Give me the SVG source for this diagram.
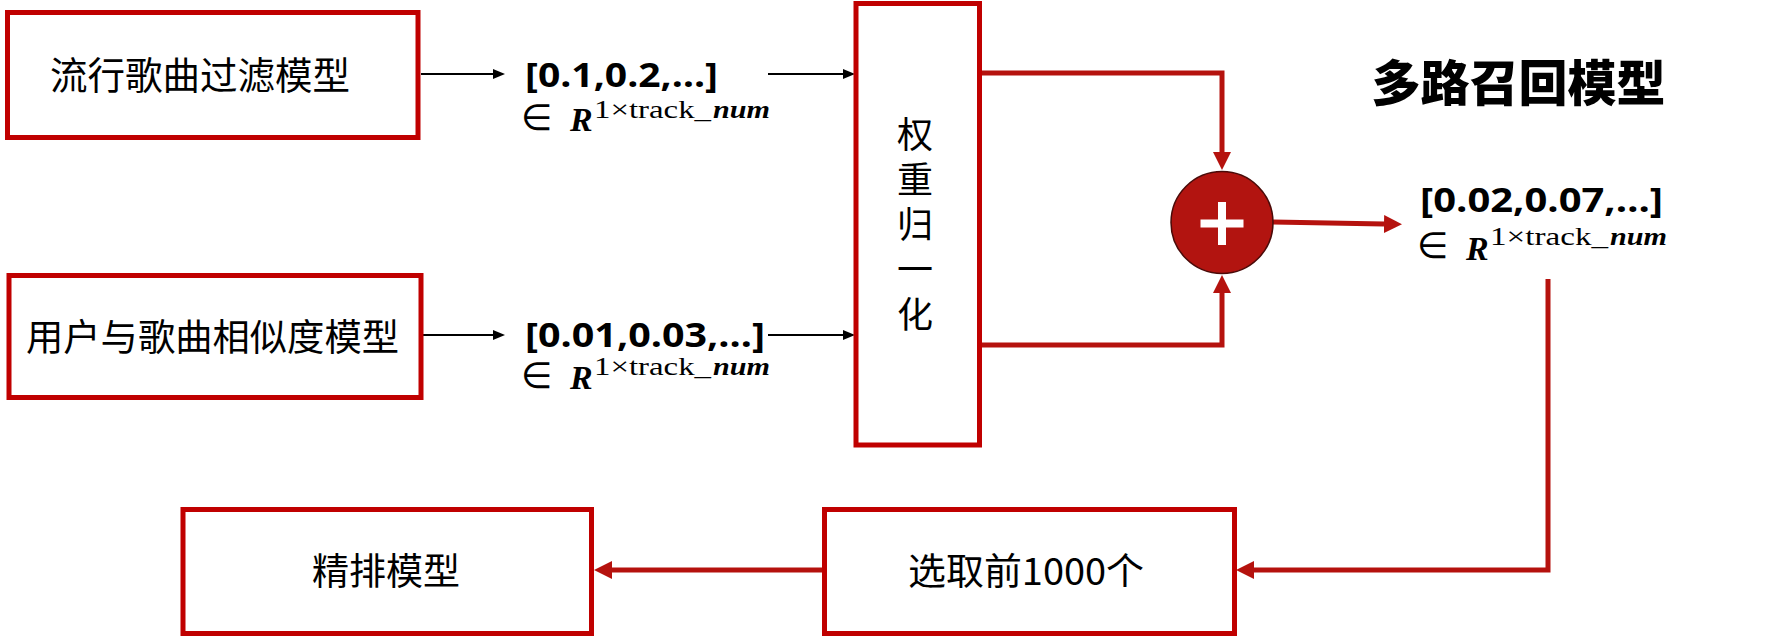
<svg xmlns="http://www.w3.org/2000/svg" width="1791" height="636" viewBox="0 0 1791 636">
<style>
.box{fill:#fff;stroke:#C00000;stroke-width:5}
.cjk{font-family:"Noto Sans CJK SC","Noto Sans",sans-serif;fill:#000}
.lbl{font-family:"Open Sans","Liberation Sans",sans-serif;font-weight:700;font-size:34px;fill:#000}
.m{font-family:"Liberation Serif","DejaVu Serif",serif;fill:#000}
.el{font-family:"DejaVu Sans",sans-serif;font-size:36px}
.bi{font-weight:700;font-style:italic}
.blk{fill:none;stroke:#000;stroke-width:2}
.red{fill:none;stroke:#B5120E;stroke-width:5}
</style>
<defs>
<marker id="ab" viewBox="0 0 12 10" refX="0" refY="5" markerWidth="12" markerHeight="10" markerUnits="userSpaceOnUse" orient="auto"><path d="M0,0 L12,5 L0,10 z" fill="#000"/></marker>
<marker id="ar" viewBox="0 0 18 18" refX="0" refY="9" markerWidth="18" markerHeight="18" markerUnits="userSpaceOnUse" orient="auto"><path d="M0,0 L18,9 L0,18 z" fill="#B5120E"/></marker>
</defs>

<g id="connectors">
<path class="blk" d="M421,74 H493" marker-end="url(#ab)"/>
<path class="blk" d="M768,74 H843" marker-end="url(#ab)"/>
<path class="blk" d="M423,335 H493" marker-end="url(#ab)"/>
<path class="blk" d="M768,335 H843" marker-end="url(#ab)"/>
<path class="red" d="M980,73 H1222 V152" marker-end="url(#ar)"/>
<path class="red" d="M980,345 H1222 V293" marker-end="url(#ar)"/>
<path class="red" d="M1273,222 L1384,224" marker-end="url(#ar)"/>
<path class="red" d="M1548,279 V570 H1254" marker-end="url(#ar)"/>
<path class="red" d="M822,570 H612" marker-end="url(#ar)"/>
</g>

<g id="node-pop-filter">
<rect class="box" x="7.5" y="12.5" width="410.5" height="125"/>
<text class="cjk" x="200" y="89" font-size="37.5" text-anchor="middle">流行歌曲过滤模型</text>
</g>

<g id="node-user-sim">
<rect class="box" x="9" y="275.5" width="412" height="122"/>
<text class="cjk" x="212.5" y="351" font-size="37.3" text-anchor="middle">用户与歌曲相似度模型</text>
</g>

<g id="label-vec1">
<text class="lbl" x="525" y="87" textLength="193" lengthAdjust="spacingAndGlyphs">[0.1,0.2,…]</text>
<text class="m"><tspan class="el" x="521" y="130">∈</tspan><tspan class="bi" x="570" y="131" font-size="34">R</tspan><tspan x="594" y="118" font-size="25" textLength="117" lengthAdjust="spacingAndGlyphs">1×track_</tspan><tspan class="bi" x="713" y="118" font-size="25" textLength="57" lengthAdjust="spacingAndGlyphs">num</tspan></text>
</g>

<g id="label-vec2">
<text class="lbl" x="525" y="347" textLength="240" lengthAdjust="spacingAndGlyphs">[0.01,0.03,…]</text>
<text class="m"><tspan class="el" x="521" y="388">∈</tspan><tspan class="bi" x="570" y="389" font-size="34">R</tspan><tspan x="594" y="375" font-size="25" textLength="117" lengthAdjust="spacingAndGlyphs">1×track_</tspan><tspan class="bi" x="713" y="375" font-size="25" textLength="57" lengthAdjust="spacingAndGlyphs">num</tspan></text>
</g>

<g id="node-normalize">
<rect class="box" x="856" y="3.5" width="123.5" height="441.5"/>
<text class="cjk" font-size="36" text-anchor="middle"><tspan x="915" y="147.5">权</tspan><tspan x="915" y="192.5">重</tspan><tspan x="915" y="237.5">归</tspan><tspan x="915" y="282.5">一</tspan><tspan x="915" y="327.5">化</tspan></text>
</g>

<g id="node-sum">
<circle cx="1222" cy="222.5" r="51" fill="#B21410" stroke="#4A0A08" stroke-width="1.5"/>
<rect x="1200.5" y="219.5" width="43" height="8" fill="#fff"/>
<rect x="1218" y="202" width="8" height="43" fill="#fff"/>
</g>

<g id="title">
<text class="cjk" x="1518.5" y="101" font-size="49" font-weight="900" text-anchor="middle">多路召回模型</text>
</g>

<g id="label-vec3">
<text class="lbl" x="1420" y="212" textLength="243" lengthAdjust="spacingAndGlyphs">[0.02,0.07,…]</text>
<text class="m"><tspan class="el" x="1417" y="258">∈</tspan><tspan class="bi" x="1466" y="260" font-size="34">R</tspan><tspan x="1490" y="245" font-size="25" textLength="118" lengthAdjust="spacingAndGlyphs">1×track_</tspan><tspan class="bi" x="1610" y="245" font-size="25" textLength="57" lengthAdjust="spacingAndGlyphs">num</tspan></text>
</g>

<g id="node-top1000">
<rect class="box" x="824.5" y="509.5" width="410" height="124"/>
<text class="cjk" x="1026" y="585" font-size="37" text-anchor="middle" textLength="236" lengthAdjust="spacingAndGlyphs">选取前1000个</text>
</g>

<g id="node-rank">
<rect class="box" x="183" y="509.5" width="408.5" height="124"/>
<text class="cjk" x="386" y="585" font-size="37" text-anchor="middle">精排模型</text>
</g>
</svg>
